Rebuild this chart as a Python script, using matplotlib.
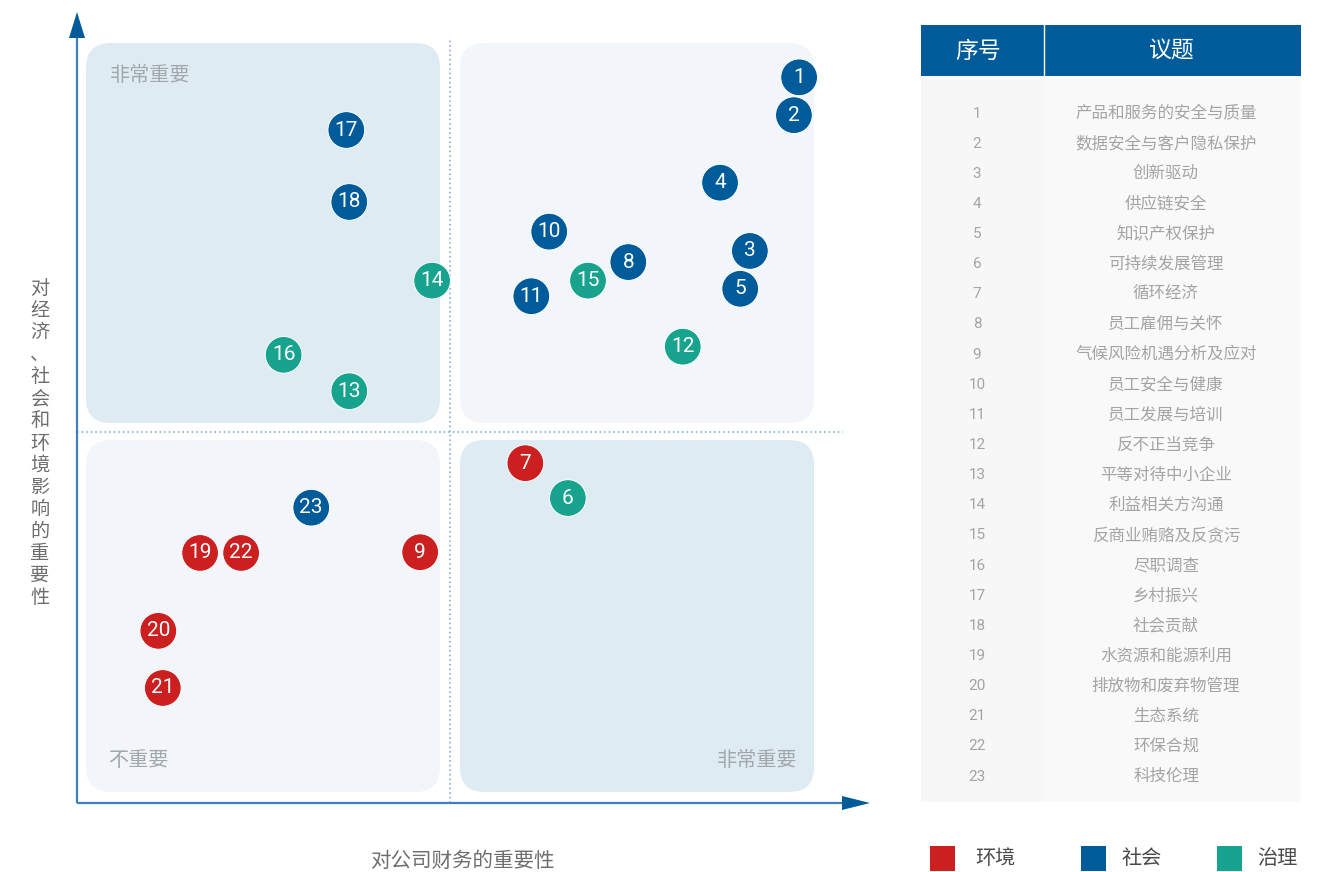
import matplotlib.pyplot as plt
from matplotlib.patches import FancyBboxPatch, Rectangle, Polygon

plt.rcParams['font.family'] = ['Noto Sans CJK SC', 'DejaVu Sans']

# issues, topics and category (0 环境, 1 社会, 2 治理)
issue_ids = list(range(1, 24))
topics = ["产品和服务的安全与质量", "数据安全与客户隐私保护", "创新驱动", "供应链安全",
          "知识产权保护", "可持续发展管理", "循环经济", "员工雇佣与关怀",
          "气候风险机遇分析及应对", "员工安全与健康", "员工发展与培训", "反不正当竞争",
          "平等对待中小企业", "利益相关方沟通", "反商业贿赂及反贪污", "尽职调查",
          "乡村振兴", "社会贡献", "水资源和能源利用", "排放物和废弃物管理",
          "生态系统", "环保合规", "科技伦理"]
category = [1, 1, 1, 1, 1, 2, 0, 1, 0, 1, 1, 2, 2, 2, 2, 2, 1, 1, 0, 0, 0, 0, 1]

# scores (quadrant split at 5)
financial = [9.68, 9.61, 9.02, 8.62, 8.89, 6.58, 6.01, 7.39, 4.60, 6.33, 6.09, 8.12,
             3.65, 4.76, 6.85, 2.77, 3.61, 3.65, 1.65, 1.09, 1.15, 2.20, 3.14]
impact = [9.78, 9.27, 7.44, 8.36, 6.93, 4.11, 4.58, 7.29, 3.38, 7.70, 6.83, 6.15,
          5.55, 7.04, 7.04, 6.04, 9.07, 8.10, 3.37, 2.32, 1.55, 3.37, 3.98]

cat_names = ["环境", "社会", "治理"]
cat_colors = ["#CC1F1F", "#005B9A", "#17A38E"]

W, H = 1325, 872
fig = plt.figure(figsize=(W / 100, H / 100), dpi=100)

# overlay in pixel coords for labels and legend
ov = fig.add_axes([0, 0, 1, 1])
ov.set_xlim(0, W)
ov.set_ylim(H, 0)
ov.axis("off")

# matrix axes: origin at px (77, 803)
PX, PY = 74.6, 74.2
ax = fig.add_axes([77 / W, (H - 803) / H, 793 / W, 791 / H])
ax.set_xlim(0, 793 / PX)
ax.set_ylim(0, 791 / PY)
ax.patch.set_alpha(0)
ax.axis("off")


def hx(p):
    return (p - 77) / PX


def hy(p):
    return (803 - p) / PY


quads = [(86, 43, 440, 423, "#DEEBF3"), (460, 43, 814, 423, "#F2F6FA"),
         (86, 440, 440, 792, "#F2F6FA"), (460, 440, 814, 792, "#DEEBF3")]
for x0, y0, x1, y1, c in quads:
    ax.add_patch(FancyBboxPatch((hx(x0), hy(y1)), hx(x1) - hx(x0), hy(y0) - hy(y1),
                                boxstyle="round,pad=0,rounding_size=0.33",
                                fc=c, ec="none", zorder=1))

ax.text(hx(110), hy(75), "非常重要", fontsize=14.5, color="#A2A7AC", va="center", zorder=2)
ax.text(hx(108), hy(760), "不重要", fontsize=14.5, color="#A2A7AC", va="center", zorder=2)
ax.text(hx(797), hy(760), "非常重要", fontsize=14.5, color="#A2A7AC", va="center",
        ha="right", zorder=2)

# dotted dividers
ax.plot([5, 5], [0, hy(38)], ls=(0, (1, 2)), lw=1.1, color="#6FA3D2", zorder=2)
ax.plot([0, hx(843)], [5, 5], ls=(0, (1, 2)), lw=1.1, color="#6FA3D2", zorder=2)

# axes with arrow heads
ax.plot([0, 0], [0, hy(38)], lw=1.6, color="#3F7FBA", zorder=3, clip_on=False,
        solid_capstyle="butt")
ax.plot([0, hx(842)], [0, 0], lw=1.6, color="#3F7FBA", zorder=3, clip_on=False,
        solid_capstyle="butt")
ax.add_patch(Polygon([(hx(69), hy(38)), (hx(85), hy(38)), (hx(77), hy(12))],
                     closed=True, fc="#005B9A", ec="none", zorder=3, clip_on=False))
ax.add_patch(Polygon([(hx(842), hy(796)), (hx(842), hy(810)), (hx(870), hy(803))],
                     closed=True, fc="#005B9A", ec="none", zorder=3, clip_on=False))

# issue dots
colors = [cat_colors[c] for c in category]
ax.scatter(financial, impact, s=700, c=colors, edgecolors="white", linewidths=0.7,
           zorder=4)
for i, x, y in zip(issue_ids, financial, impact):
    ax.text(x, y, str(i), color="white", fontsize=15, family="Roboto",
            ha="center", va="center", zorder=5)

# axis titles
ylabel = "对经济、社会和环境影响的重要性"
ov.text(40, 443, "\n".join(ylabel), fontsize=13.8, color="#6E6E6E", ha="center",
        va="center", linespacing=1.07)
ov.text(462, 861, "对公司财务的重要性", fontsize=14.8, color="#6E6E6E", ha="center",
        va="center")

# table
tab = fig.add_axes([921 / W, (H - 802) / H, 380 / W, 777 / H])
tab.set_xlim(0, 380)
tab.set_ylim(777, 0)
tab.axis("off")
tab.add_patch(Rectangle((0, 0), 380, 51, fc="#005B9A", ec="none"))
tab.plot([123, 123], [0, 51], color="white", lw=1)
tab.add_patch(Rectangle((0, 51), 123, 726, fc="#F7F7F7", ec="none"))
tab.add_patch(Rectangle((123, 51), 257, 726, fc="#F9F9F9", ec="none"))
tab.text(57, 26, "序号", color="white", fontsize=16.5, ha="center", va="center")
tab.text(251, 26, "议题", color="white", fontsize=16.5, ha="center", va="center")
row_h = 30.14
for k, (i, t) in enumerate(zip(issue_ids, topics)):
    y = 88.5 + k * row_h
    tab.text(56, y, str(i), color="#A4A4A4", fontsize=11, family="Roboto",
             ha="center", va="center")
    tab.text(245, y, t, color="#A4A4A4", fontsize=11.9, ha="center", va="center")

# legend
leg_box_x = [930, 1081, 1217]
leg_txt_x = [975, 1121, 1257]
for bx, tx, name, c in zip(leg_box_x, leg_txt_x, cat_names, cat_colors):
    ov.add_patch(Rectangle((bx, 846), 25, 25, fc=c, ec="none"))
    ov.text(tx, 858, name, fontsize=14.5, color="#4A4A4A", va="center")

fig.savefig("out.png", dpi=100)
